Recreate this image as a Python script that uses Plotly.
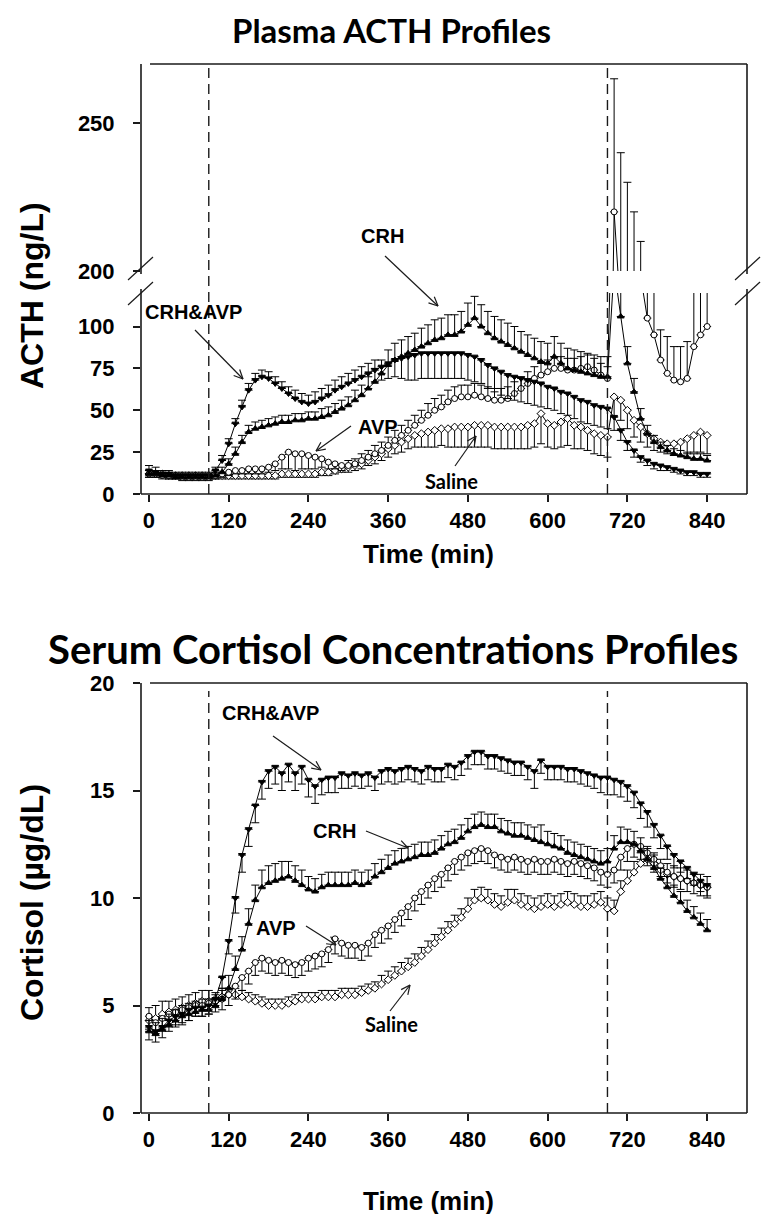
import math
import plotly.graph_objects as go

W, H = 769, 1214

# ---------------- data ----------------
time_min = [0, 10, 20, 30, 40, 50, 60, 70, 80, 90,
            100, 110, 120, 130, 140, 150, 160, 170, 180, 190,
            200, 210, 220, 230, 240, 250, 260, 270, 280, 290,
            300, 310, 320, 330, 340, 350, 360, 370, 380, 390,
            400, 410, 420, 430, 440, 450, 460, 470, 480, 490,
            500, 510, 520, 530, 540, 550, 560, 570, 580, 590,
            600, 610, 620, 630, 640, 650, 660, 670, 680, 690,
            700, 710, 720, 730, 740, 750, 760, 770, 780, 790,
            800, 810, 820, 830, 840]
x_ticks = [0, 120, 240, 360, 480, 600, 720, 840]
acth_ticks_low = [0, 25, 50, 75, 100]
acth_ticks_high = [200, 250]
cort_ticks = [0, 5, 10, 15, 20]
infusion_marks = [90, 690]

# Plasma ACTH (ng/L)
acth_crhavp = [14, 13, 12, 12, 11, 11, 11, 11, 11, 11,
               14, 20, 30, 42, 52, 62, 68, 70, 69, 66,
               63, 60, 57, 55, 54, 55, 57, 59, 62, 64,
               66, 68, 70, 72, 74, 76, 78, 80, 81, 82,
               83, 84, 84, 84, 84, 84, 84, 84, 83, 82,
               80, 77, 75, 73, 71, 70, 69, 68, 67, 66,
               64, 63, 61, 60, 58, 56, 55, 53, 52, 51,
               46, 38, 31, 26, 22, 20, 18, 17, 16, 15,
               14, 13, 13, 12, 12]
acth_crhavp_up = [3, 3, 2, 2, 2, 2, 2, 2, 2, 2,
                  2, 3, 3, 3, 4, 4, 4, 4, 4, 4,
                  4, 4, 5, 5, 5, 6, 6, 6, 6, 6,
                  6, 6, 6, 6, 6, 0, 0, 0, 0, 0,
                  0, 0, 0, 0, 0, 0, 0, 0, 0, 0,
                  0, 0, 0, 0, 0, 0, 0, 0, 0, 0,
                  0, 0, 0, 0, 0, 0, 0, 0, 0, 0,
                  0, 0, 0, 0, 0, 0, 0, 0, 0, 0,
                  0, 0, 0, 0, 0]
acth_crhavp_dn = [0, 0, 0, 0, 0, 0, 0, 0, 0, 0,
                  0, 0, 0, 0, 0, 0, 0, 0, 0, 0,
                  0, 0, 0, 0, 0, 0, 0, 0, 0, 0,
                  0, 0, 0, 0, 0, 8, 9, 10, 12, 14,
                  15, 15, 15, 15, 15, 15, 15, 15, 15, 15,
                  14, 14, 14, 14, 14, 14, 14, 14, 14, 14,
                  13, 13, 13, 13, 13, 13, 13, 12, 12, 12,
                  8, 6, 5, 4, 3, 3, 3, 3, 2, 2,
                  2, 2, 2, 2, 2]

acth_crh = [12, 12, 11, 11, 10, 10, 10, 10, 10, 10,
            11, 13, 18, 24, 31, 37, 39, 40, 41, 42,
            43, 43, 44, 44, 45, 45, 46, 47, 49, 51,
            53, 56, 59, 63, 67, 72, 77, 80, 82, 84,
            86, 88, 90, 92, 93, 95, 95, 97, 101, 105,
            100, 96, 93, 91, 89, 87, 85, 83, 81, 79,
            78, 82, 78, 75, 74, 73, 72, 71, 70, 70,
            135, 106, 78, 61, 45, 36, 31, 28, 26, 24,
            23, 22, 21, 21, 20]
acth_crh_up = [2, 2, 2, 2, 2, 2, 2, 2, 2, 2,
               2, 3, 3, 4, 4, 4, 4, 4, 4, 4,
               4, 4, 4, 4, 4, 4, 5, 5, 5, 5,
               5, 6, 6, 7, 8, 8, 9, 10, 10, 10,
               10, 11, 11, 12, 12, 12, 12, 12, 13, 13,
               13, 13, 13, 13, 13, 13, 12, 12, 12, 12,
               12, 12, 12, 12, 12, 12, 12, 12, 12, 12,
               20, 15, 10, 8, 6, 5, 4, 3, 3, 3,
               3, 3, 3, 3, 3]

acth_avp = [12, 12, 11, 11, 11, 10, 10, 10, 10, 10,
            11, 12, 13, 14, 14, 15, 15, 15, 16, 18,
            22, 25, 24, 24, 23, 22, 21, 19, 18, 17,
            17, 18, 20, 22, 24, 26, 29, 32, 35, 38,
            41, 44, 47, 50, 52, 55, 57, 58, 58, 59,
            58, 57, 56, 56, 57, 60, 63, 66, 69, 71,
            73, 75, 75, 74, 74, 75, 76, 74, 71, 69,
            220, 170, 150, 140, 130, 105, 95, 80, 72, 68,
            67, 69, 88, 95, 100]
acth_avp_up = [0, 0, 0, 0, 0, 0, 0, 0, 0, 0,
               0, 0, 0, 0, 0, 0, 0, 0, 0, 0,
               0, 0, 0, 0, 0, 0, 0, 0, 0, 0,
               3, 3, 4, 4, 5, 5, 5, 6, 6, 6,
               6, 6, 7, 7, 7, 7, 7, 7, 7, 7,
               7, 7, 7, 7, 7, 7, 7, 7, 7, 7,
               7, 7, 7, 7, 7, 7, 7, 7, 7, 7,
               45, 70, 80, 80, 80, 55, 50, 18, 22, 20,
               21, 22, 45, 50, 50]
acth_avp_dn = [2, 2, 2, 2, 2, 2, 2, 2, 2, 2,
               2, 2, 2, 2, 2, 3, 3, 3, 3, 4,
               7, 10, 10, 9, 8, 7, 5, 4, 3, 3,
               0, 0, 0, 0, 0, 0, 0, 0, 0, 0,
               0, 0, 0, 0, 0, 0, 0, 0, 0, 0,
               0, 0, 0, 0, 0, 0, 0, 0, 0, 0,
               0, 0, 0, 0, 0, 0, 0, 0, 0, 0,
               0, 0, 0, 0, 0, 0, 0, 0, 0, 0,
               0, 0, 0, 0, 0]

acth_sal = [12, 12, 12, 11, 11, 11, 11, 11, 11, 11,
            11, 11, 11, 11, 11, 11, 11, 11, 11, 11,
            12, 12, 12, 12, 12, 12, 13, 13, 14, 15,
            16, 17, 18, 20, 22, 24, 27, 29, 31, 33,
            35, 36, 37, 38, 39, 39, 40, 40, 40, 41,
            41, 41, 40, 40, 40, 40, 40, 41, 42, 48,
            42, 41, 43, 45, 41, 40, 38, 36, 35, 34,
            58, 56, 50, 44, 40, 36, 33, 31, 30, 30,
            31, 33, 35, 37, 35]
acth_sal_dn = [2, 2, 2, 2, 2, 2, 2, 2, 2, 2,
               2, 2, 2, 2, 2, 2, 2, 2, 2, 2,
               2, 2, 2, 2, 2, 2, 2, 2, 2, 2,
               3, 3, 3, 3, 4, 4, 5, 5, 6, 6,
               7, 8, 9, 10, 10, 11, 12, 12, 12, 13,
               13, 13, 13, 13, 13, 13, 13, 14, 14, 18,
               14, 14, 15, 16, 14, 13, 12, 12, 12, 12,
               12, 12, 11, 10, 9, 8, 7, 6, 6, 7,
               8, 9, 10, 12, 11]

# Serum cortisol (ug/dL)
cort_crhavp = [4.0, 3.8, 4.0, 4.3, 4.5, 4.6, 4.8, 4.9, 4.9, 5.0,
               5.3, 6.3, 8.0, 10.0, 12.0, 13.2, 14.3, 15.4, 15.9, 16.1,
               15.8, 16.2, 15.8, 16.1, 15.5, 15.2, 15.5, 15.6, 15.6, 15.8,
               15.7, 15.8, 15.7, 15.8, 15.6, 15.9, 16.0, 15.9, 16.0, 16.1,
               16.0, 15.9, 16.1, 16.0, 16.0, 16.2, 16.1, 16.3, 16.6, 16.8,
               16.8, 16.6, 16.6, 16.5, 16.4, 16.3, 16.3, 16.1, 15.9, 16.4,
               16.1, 16.1, 16.1, 16.0, 16.0, 15.9, 15.8, 15.7, 15.6, 15.6,
               15.5, 15.4, 15.2, 14.9, 14.4, 14.0, 13.4, 12.9, 12.4, 12.0,
               11.7, 11.4, 11.1, 10.8, 10.6]
cort_crhavp_dn = [0.6, 0.5, 0.5, 0.5, 0.5, 0.5, 0.5, 0.4, 0.4, 0.4,
                  0.4, 0.5, 0.6, 0.7, 0.8, 0.8, 0.8, 0.8, 0.8, 0.8,
                  0.8, 0.8, 0.8, 0.8, 0.8, 0.8, 0.7, 0.7, 0.7, 0.7,
                  0.6, 0.6, 0.6, 0.6, 0.6, 0.6, 0.6, 0.6, 0.6, 0.6,
                  0.6, 0.6, 0.6, 0.6, 0.6, 0.6, 0.6, 0.6, 0.6, 0.6,
                  0.6, 0.6, 0.6, 0.6, 0.6, 0.6, 0.6, 0.6, 0.8, 0.6,
                  0.6, 0.6, 0.6, 0.6, 0.6, 0.6, 0.6, 0.6, 0.7, 0.8,
                  0.7, 0.7, 0.7, 0.7, 0.7, 0.7, 0.6, 0.6, 0.6, 0.6,
                  0.5, 0.5, 0.5, 0.5, 0.5]

cort_crh = [3.8, 3.7, 3.9, 4.1, 4.3, 4.5, 4.6, 4.7, 4.8, 4.8,
            5.0, 5.3, 5.8, 6.7, 7.6, 8.8, 9.9, 10.5, 10.7, 10.8,
            10.9, 11.0, 10.8, 10.6, 10.4, 10.3, 10.5, 10.6, 10.6, 10.6,
            10.6, 10.7, 10.6, 10.7, 11.0, 11.2, 11.4, 11.6, 11.7, 11.8,
            11.9, 12.0, 12.0, 12.1, 12.3, 12.5, 12.6, 12.8, 13.1, 13.3,
            13.4, 13.3, 13.3, 13.1, 13.0, 12.9, 12.9, 12.8, 12.7, 12.6,
            12.5, 12.4, 12.3, 12.1, 12.0, 11.9, 11.8, 11.7, 11.6, 11.7,
            12.3, 12.6, 12.6, 12.5, 12.2, 11.8, 11.4, 10.9, 10.5, 10.1,
            9.8, 9.4, 9.1, 8.8, 8.5]
cort_crh_up = [0.5, 0.5, 0.5, 0.5, 0.5, 0.5, 0.5, 0.5, 0.5, 0.5,
               0.5, 0.5, 0.6, 0.6, 0.6, 0.7, 0.7, 0.8, 0.8, 0.8,
               0.8, 0.7, 0.7, 0.7, 0.6, 0.6, 0.6, 0.6, 0.6, 0.6,
               0.6, 0.6, 0.6, 0.6, 0.6, 0.6, 0.6, 0.6, 0.6, 0.6,
               0.6, 0.6, 0.6, 0.6, 0.6, 0.6, 0.6, 0.6, 0.6, 0.6,
               0.6, 0.6, 0.6, 0.6, 0.6, 0.6, 0.6, 0.6, 0.6, 0.8,
               0.6, 0.6, 0.6, 0.6, 0.6, 0.6, 0.6, 0.6, 0.6, 0.6,
               0.6, 0.7, 0.6, 0.6, 0.6, 0.6, 0.6, 0.5, 0.5, 0.5,
               0.5, 0.5, 0.5, 0.5, 0.5]

cort_avp = [4.5, 4.2, 4.4, 4.6, 4.7, 4.8, 4.9, 5.0, 5.0, 5.1,
            5.2, 5.3, 5.5, 5.9, 6.3, 6.6, 7.0, 7.2, 7.1, 7.0,
            7.1, 7.0, 6.9, 7.0, 7.2, 7.3, 7.4, 7.6, 8.1, 7.9,
            7.8, 7.8, 7.7, 7.9, 8.3, 8.5, 8.7, 9.0, 9.3, 9.6,
            10.0, 10.3, 10.6, 10.9, 11.1, 11.4, 11.7, 11.9, 12.1, 12.2,
            12.3, 12.2, 12.0, 11.9, 11.8, 11.9, 11.8, 11.7, 11.8, 11.7,
            11.7, 11.8, 11.7, 11.6, 11.7, 11.6, 11.5, 11.4, 11.2, 11.1,
            11.3, 11.9, 12.3, 12.5, 12.4, 12.1, 11.8, 11.5, 11.2, 11.0,
            10.9, 10.8, 10.7, 10.6, 10.5]
cort_avp_dn = [0.6, 0.6, 0.6, 0.6, 0.6, 0.6, 0.6, 0.5, 0.5, 0.5,
               0.5, 0.5, 0.5, 0.6, 0.6, 0.6, 0.6, 0.6, 0.6, 0.6,
               0.6, 0.6, 0.6, 0.6, 0.6, 0.6, 0.6, 0.6, 0.7, 0.6,
               0.6, 0.6, 0.6, 0.6, 0.6, 0.6, 0.6, 0.6, 0.6, 0.6,
               0.6, 0.6, 0.6, 0.6, 0.6, 0.6, 0.6, 0.6, 0.6, 0.6,
               0.6, 0.6, 0.6, 0.6, 0.6, 0.6, 0.6, 0.6, 0.6, 0.6,
               0.6, 0.6, 0.6, 0.6, 0.6, 0.6, 0.6, 0.6, 0.6, 0.6,
               0.6, 0.6, 0.6, 0.6, 0.6, 0.6, 0.6, 0.5, 0.5, 0.5,
               0.5, 0.5, 0.5, 0.5, 0.5]

cort_sal = [4.3, 4.4, 4.6, 4.7, 4.8, 4.9, 5.0, 5.1, 5.2, 5.2,
            5.3, 5.4, 5.5, 5.5, 5.4, 5.3, 5.2, 5.1, 5.0, 5.0,
            5.0, 5.1, 5.2, 5.3, 5.3, 5.3, 5.4, 5.4, 5.4, 5.5,
            5.5, 5.5, 5.6, 5.7, 5.8, 6.0, 6.2, 6.4, 6.6, 6.8,
            7.0, 7.3, 7.6, 7.9, 8.2, 8.5, 8.8, 9.1, 9.5, 9.9,
            10.0, 9.9, 9.7, 9.6, 9.8, 9.9, 9.7, 9.6, 9.5, 9.6,
            9.7, 9.6, 9.7, 9.8, 9.7, 9.6, 9.6, 9.7, 9.8, 9.5,
            9.4, 10.3, 10.8, 11.2, 11.6, 11.8, 11.6, 11.3, 11.1, 11.0,
            10.9, 10.8, 10.7, 10.6, 10.5]
cort_sal_up = [0.6, 0.6, 0.6, 0.5, 0.5, 0.5, 0.5, 0.5, 0.5, 0.5,
               0.3, 0.3, 0.3, 0.3, 0.3, 0.3, 0.3, 0.3, 0.3, 0.3,
               0.3, 0.3, 0.3, 0.3, 0.3, 0.3, 0.3, 0.3, 0.3, 0.3,
               0.3, 0.3, 0.3, 0.3, 0.3, 0.4, 0.4, 0.4, 0.4, 0.4,
               0.4, 0.4, 0.4, 0.4, 0.4, 0.4, 0.4, 0.4, 0.5, 0.5,
               0.5, 0.5, 0.5, 0.5, 0.6, 0.5, 0.5, 0.5, 0.5, 0.5,
               0.5, 0.5, 0.5, 0.5, 0.5, 0.5, 0.5, 0.5, 0.5, 0.5,
               0.5, 0.5, 0.5, 0.5, 0.5, 0.5, 0.5, 0.5, 0.5, 0.5,
               0.5, 0.5, 0.5, 0.5, 0.5]

# ---------------- helpers (pixel -> paper) ----------------
def px(x):
    return x / W

def py(y):
    return 1 - y / H

FRAME = "#1a1a1a"
ARIAL = "Liberation Sans, Arial, sans-serif"
TITLEF = "Lato, Open Sans, sans-serif"

fig = go.Figure()

zeros = [0] * len(time_min)

def series(y, up, dn, symbol, fill, xa, ya, size=6):
    return go.Scatter(
        x=time_min, y=y, xaxis=xa, yaxis=ya, mode="lines+markers",
        line=dict(color="black", width=1),
        marker=dict(symbol=symbol, size=size, color=fill,
                    line=dict(color="black", width=1)),
        error_y=dict(type="data", symmetric=False, array=up, arrayminus=dn,
                     color="black", thickness=1, width=4),
        showlegend=False, hoverinfo="skip")

acth_series = [
    (acth_sal, zeros, acth_sal_dn, "diamond", "white"),
    (acth_avp, acth_avp_up, acth_avp_dn, "circle", "white"),
    (acth_crhavp, acth_crhavp_up, acth_crhavp_dn, "triangle-down", "black"),
    (acth_crh, acth_crh_up, zeros, "triangle-up", "black"),
]
for ya in ("y", "y2"):
    for y, up, dn, sym, fill in acth_series:
        fig.add_trace(series(y, up, dn, sym, fill, "x", ya))

cort_series = [
    (cort_sal, cort_sal_up, zeros, "diamond", "white"),
    (cort_avp, zeros, cort_avp_dn, "circle", "white"),
    (cort_crh, cort_crh_up, zeros, "triangle-up", "black"),
    (cort_crhavp, zeros, cort_crhavp_dn, "triangle-down", "black"),
]
for y, up, dn, sym, fill in cort_series:
    fig.add_trace(series(y, up, dn, sym, fill, "x2", "y3"))

tickfont = dict(family=ARIAL, size=22, color="black", weight="bold")
xcommon = dict(range=[-12, 900], tickvals=x_ticks, ticks="outside", ticklen=7,
               tickwidth=1.5, tickcolor=FRAME, showline=False, showgrid=False,
               zeroline=False, tickfont=tickfont, automargin=False,
               ticklabelstandoff=0,
               domain=[px(133), px(739)])
ycommon = dict(ticks="outside", ticklen=7, tickwidth=1.5, tickcolor=FRAME,
               showline=False, showgrid=False, zeroline=False, tickfont=tickfont,
               automargin=False, ticklabelstandoff=14)

fig.update_layout(
    width=W, height=H, margin=dict(l=0, r=0, t=0, b=0),
    paper_bgcolor="white", plot_bgcolor="white",
    xaxis=dict(anchor="y", **xcommon),
    yaxis=dict(anchor="x", range=[0, 120], tickvals=acth_ticks_low,
               domain=[py(486), py(285)], **ycommon),
    yaxis2=dict(anchor="x", range=[200, 270], tickvals=acth_ticks_high,
                domain=[py(263), py(56)], **ycommon),
    xaxis2=dict(anchor="y3", **xcommon),
    yaxis3=dict(anchor="x2", range=[0, 20], tickvals=cort_ticks,
                domain=[py(1105), py(675)], **ycommon),
)

shapes = []

def pline(x0, y0, x1, y1, w=1.6, dash=None):
    d = dict(type="line", xref="paper", yref="paper",
             x0=px(x0), y0=py(y0), x1=px(x1), y1=py(y1),
             line=dict(color=FRAME, width=w))
    if dash:
        d["line"]["dash"] = dash
    shapes.append(d)

# frames - top panel
pline(142, 56, 739, 56)
pline(133, 56, 133, 266)
pline(133, 281, 133, 486)
pline(739, 56, 739, 266)
pline(739, 281, 739, 486)
pline(133, 486, 739, 486)
# break marks
for (xa, xb) in ((120, 145), (727, 752)):
    pline(xa, 272, xb, 249, w=1.2)
    pline(xa, 297, xb, 274, w=1.2)
# frames - bottom panel
pline(142, 675, 739, 675)
pline(133, 675, 133, 1105)
pline(739, 675, 739, 1105)
pline(133, 1105, 739, 1105)

# infusion dashed lines
for t in infusion_marks:
    shapes.append(dict(type="line", xref="x", yref="paper", x0=t, x1=t,
                       y0=py(486), y1=py(56),
                       line=dict(color=FRAME, width=1.4, dash="10px,6px")))
    shapes.append(dict(type="line", xref="x2", yref="paper", x0=t, x1=t,
                       y0=py(1105), y1=py(683),
                       line=dict(color=FRAME, width=1.4, dash="10px,6px")))

# arrows with open chevron heads
def arrow(x0, y0, x1, y1, head=10, ang=25):
    pline(x0, y0, x1, y1, w=1.2)
    a = math.atan2(y0 - y1, x0 - x1)
    for s in (-1, 1):
        b = a + s * math.radians(ang)
        pline(x1, y1, x1 + head * math.cos(b), y1 + head * math.sin(b), w=1.2)

arrow(187, 322, 235, 371)
arrow(377, 248, 430, 298)
arrow(343, 418, 308, 443)
arrow(447, 458, 468, 428)
arrow(265, 728, 313, 762)
arrow(358, 823, 400, 840)
arrow(298, 918, 328, 937)
arrow(382, 1003, 402, 977)

fig.update_layout(shapes=shapes)

annotations = []

def label(text, x, y, size=20, font=ARIAL, angle=0):
    annotations.append(dict(text=text, x=px(x), y=py(y), xref="paper", yref="paper",
                            showarrow=False, textangle=angle,
                            font=dict(family=font, size=size, color="black"),
                            xanchor="center", yanchor="middle"))

label("<b>Plasma ACTH Profiles</b>", 383, 22, size=33, font=TITLEF)
label("<b>Serum Cortisol Concentrations Profiles</b>", 385, 641, size=40, font=TITLEF)
label("<b>ACTH (ng/L)</b>", 24, 288, size=32, angle=-90)
label("<b>Cortisol (µg/dL)</b>", 24, 895, size=32, angle=-90)
label("<b>Time (min)</b>", 420, 546, size=26)
label("<b>Time (min)</b>", 420, 1193, size=26)

label("<b>CRH&AVP</b>", 185, 304, size=20)
label("<b>CRH</b>", 374, 228, size=20)
label("<b>AVP</b>", 370, 419, size=20)
label("<b>Saline</b>", 443, 473, size=20, font=TITLEF)
label("<b>CRH&AVP</b>", 262, 705, size=20)
label("<b>CRH</b>", 326, 823, size=20)
label("<b>AVP</b>", 268, 920, size=20)
label("<b>Saline</b>", 383, 1016, size=20, font=TITLEF)

fig.update_layout(annotations=annotations)

fig.write_html("out.html")
